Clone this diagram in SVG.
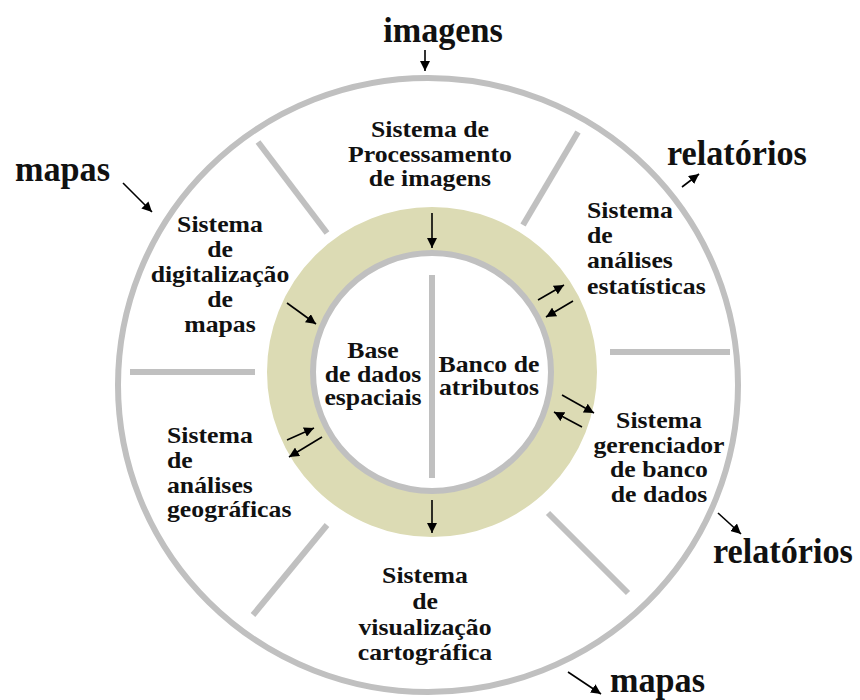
<svg xmlns="http://www.w3.org/2000/svg" width="860" height="700" viewBox="0 0 860 700">
<defs>
<marker id="ah" viewBox="0 0 10 10" refX="10" refY="5" markerWidth="10" markerHeight="10" markerUnits="userSpaceOnUse" orient="auto">
<path d="M0,0 L10,5 L0,10 z" fill="#000"/>
</marker>
</defs>
<style>
.ring{fill:none;stroke:#c0c0c0;stroke-width:6}
.div{stroke:#c0c0c0;stroke-width:6;fill:none}
.arr{stroke:#000;stroke-width:1.6;fill:none;marker-end:url(#ah)}
.t{font-family:"Liberation Serif","Times New Roman",serif;font-weight:bold;font-size:23px;fill:#111}
.big{font-family:"Liberation Serif","Times New Roman",serif;font-weight:bold;font-size:36px;fill:#111}
.m{text-anchor:middle}
</style>
<rect width="860" height="700" fill="#fff"/>
<g id="outer">
<ellipse cx="428" cy="385" rx="310" ry="307" class="ring" stroke-width="5"/>
</g>
<g id="core">
<circle cx="432" cy="372" r="142" fill="none" stroke="#dcdbb4" stroke-width="46"/>
<circle cx="432" cy="372" r="119" fill="#fff" class="ring"/>
<line x1="432" y1="275" x2="432" y2="478" class="div"/>
</g>
<g id="dividers">
<line x1="258" y1="142" x2="327" y2="233" class="div"/>
<line x1="578" y1="132" x2="523" y2="225" class="div"/>
<line x1="130" y1="372" x2="255" y2="372" class="div"/>
<line x1="610" y1="352" x2="730" y2="352" class="div"/>
<line x1="327" y1="525" x2="253" y2="615" class="div"/>
<line x1="548" y1="513" x2="628" y2="593" class="div"/>
</g>
<g id="connectors">
<line x1="425" y1="50" x2="425" y2="71" class="arr"/>
<line x1="432" y1="213" x2="432" y2="248" class="arr"/>
<line x1="123" y1="183" x2="152" y2="212" class="arr"/>
<line x1="287" y1="303" x2="316" y2="324" class="arr"/>
<line x1="682" y1="187" x2="699" y2="174" class="arr"/>
<line x1="538" y1="300" x2="564" y2="285" class="arr"/>
<line x1="573" y1="301" x2="546" y2="317" class="arr"/>
<line x1="562" y1="395" x2="594" y2="413" class="arr"/>
<line x1="582" y1="427" x2="554" y2="412" class="arr"/>
<line x1="287" y1="440" x2="314" y2="428" class="arr"/>
<line x1="322" y1="437" x2="289" y2="457" class="arr"/>
<line x1="432" y1="500" x2="432" y2="533" class="arr"/>
<line x1="718" y1="513" x2="741" y2="534" class="arr"/>
<line x1="568" y1="672" x2="601" y2="694" class="arr"/>
</g>
<g id="n-imagens"><text class="big m" transform="translate(443,42) scale(0.95,1)">imagens</text></g>
<g id="n-mapas-in"><text class="big" transform="translate(15,181) scale(0.95,1)">mapas</text></g>
<g id="n-relatorios-1"><text class="big" transform="translate(667,165) scale(0.95,1)">relatórios</text></g>
<g id="n-relatorios-2"><text class="big" transform="translate(713,563) scale(0.95,1)">relatórios</text></g>
<g id="n-mapas-out"><text class="big" transform="translate(610,692) scale(0.95,1)">mapas</text></g>
<g id="n-processamento"><text class="t m" transform="translate(430,137) scale(1.12,1)"><tspan x="0">Sistema de</tspan><tspan x="0" dy="25">Processamento</tspan><tspan x="0" dy="24">de imagens</tspan></text></g>
<g id="n-digitalizacao"><text class="t m" transform="translate(220,232) scale(1.12,1)"><tspan x="0">Sistema</tspan><tspan x="0" dy="25">de</tspan><tspan x="0" dy="25">digitalização</tspan><tspan x="0" dy="25">de</tspan><tspan x="0" dy="25">mapas</tspan></text></g>
<g id="n-estatisticas"><text class="t" transform="translate(587,218) scale(1.12,1)"><tspan x="0">Sistema</tspan><tspan x="0" dy="25">de</tspan><tspan x="0" dy="25">análises</tspan><tspan x="0" dy="26">estatísticas</tspan></text></g>
<g id="n-base"><text class="t m" transform="translate(373,358) scale(1.12,1)"><tspan x="0">Base</tspan><tspan x="0" dy="24">de dados</tspan><tspan x="0" dy="23">espaciais</tspan></text></g>
<g id="n-banco"><text class="t m" transform="translate(489,372) scale(1.12,1)"><tspan x="0">Banco de</tspan><tspan x="0" dy="23">atributos</tspan></text></g>
<g id="n-gerenciador"><text class="t m" transform="translate(659,428) scale(1.12,1)"><tspan x="0">Sistema</tspan><tspan x="0" dy="25">gerenciador</tspan><tspan x="0" dy="24">de banco</tspan><tspan x="0" dy="25">de dados</tspan></text></g>
<g id="n-geograficas"><text class="t" transform="translate(167,443) scale(1.12,1)"><tspan x="0">Sistema</tspan><tspan x="0" dy="25">de</tspan><tspan x="0" dy="25">análises</tspan><tspan x="0" dy="24">geográficas</tspan></text></g>
<g id="n-visualizacao"><text class="t m" transform="translate(425,583) scale(1.12,1)"><tspan x="0">Sistema</tspan><tspan x="0" dy="26">de</tspan><tspan x="0" dy="26">visualização</tspan><tspan x="0" dy="25">cartográfica</tspan></text></g>
</svg>
